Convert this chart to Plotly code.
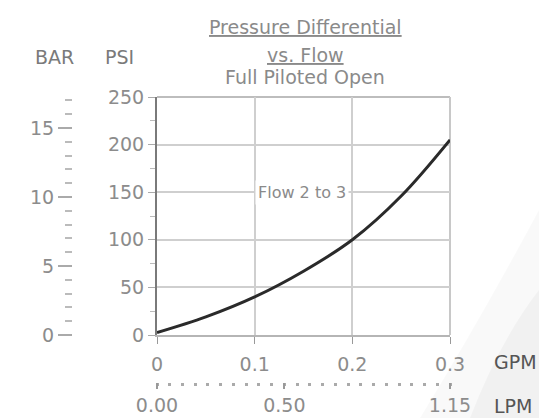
import plotly.graph_objects as go

W, H = 539, 418

# ---- data ----
flow_gpm = [0.0, 0.05, 0.10, 0.15, 0.20, 0.25, 0.30]
pressure_psi = [2.5, 19, 40, 67, 100, 146, 205]

psi_ticks = [0, 50, 100, 150, 200, 250]
bar_ticks = [0, 5, 10, 15]
gpm_ticks = [0, 0.1, 0.2, 0.3]
gpm_labels = ["0", "0.1", "0.2", "0.3"]
lpm_ticks = [0, 0.5, 1.15]
lpm_labels = ["0.00", "0.50", "1.15"]

title_lines = ["Pressure Differential", "vs. Flow", "Full Piloted Open"]
curve_label = "Flow 2 to 3"

PSI_PER_BAR = 14.5038
PSI_MAX = 250
LPM_MAX = 1.15

FONT = "DejaVu Sans"
GRAY = "#8c8c8c"

def px(x):
    return x / W

def py(y):
    return (H - y) / H

x_dom = [px(157), px(450)]
y_dom = [py(335), py(97)]

fig = go.Figure()

fig.add_trace(go.Scatter(
    x=flow_gpm, y=pressure_psi, mode="lines",
    line=dict(color="#2a2a2a", width=3, shape="spline", smoothing=1.0),
    showlegend=False, hoverinfo="skip",
))
# invisible traces to activate secondary axes
fig.add_trace(go.Scatter(x=[0], y=[0], yaxis="y2", mode="markers",
                         marker=dict(opacity=0), showlegend=False, hoverinfo="skip"))
fig.add_trace(go.Scatter(x=[0], y=[0], xaxis="x2", mode="markers",
                         marker=dict(opacity=0), showlegend=False, hoverinfo="skip"))

tickfont = dict(family=FONT, size=19, color=GRAY)

fig.update_layout(
    width=W, height=H,
    margin=dict(l=0, r=0, t=0, b=0, autoexpand=False),
    paper_bgcolor="white", plot_bgcolor="white",
    xaxis=dict(
        domain=x_dom, range=[0, 0.3], tickvals=gpm_ticks, ticktext=gpm_labels,
        showgrid=True, gridcolor="#cfcfcf", gridwidth=2,
        showline=True, linecolor="#b5b5b5", linewidth=2,
        ticks="outside", ticklen=7, tickcolor="#999", tickwidth=1,
        ticklabelstandoff=4,
        tickfont=tickfont, zeroline=False, anchor="y", automargin=False,
    ),
    yaxis=dict(
        domain=y_dom, range=[0, PSI_MAX], tickvals=psi_ticks,
        showgrid=True, gridcolor="#cfcfcf", gridwidth=2,
        showline=True, linecolor="#7a7a7a", linewidth=2,
        ticks="outside", ticklen=7, tickcolor="#aaa", tickwidth=1,
        minor=dict(dtick=25, ticks="outside", ticklen=5, tickcolor="#bbb", showgrid=False),
        tickfont=tickfont, zeroline=False, anchor="x", automargin=False,
    ),
    yaxis2=dict(
        overlaying="y", anchor="free", position=px(72), side="left",
        range=[0, PSI_MAX / PSI_PER_BAR], tickvals=bar_ticks,
        showgrid=False, showline=False, zeroline=False,
        ticks="outside", ticklen=14, tickcolor="#aaa", tickwidth=2,
        minor=dict(dtick=1, ticks="outside", ticklen=7, tickcolor="#bbb", tickwidth=2),
        tickfont=tickfont, automargin=False,
    ),
    xaxis2=dict(
        overlaying="x", anchor="free", position=py(382), side="bottom",
        range=[0, LPM_MAX], tickvals=lpm_ticks, ticktext=lpm_labels,
        showgrid=False, showline=False, zeroline=False,
        ticks="outside", ticklen=6, tickcolor="#999", tickwidth=2,
        minor=dict(dtick=0.05, ticks="outside", ticklen=3, tickcolor="#aaa", tickwidth=3),
        tickfont=tickfont, automargin=False,
    ),
    showlegend=False,
)

# top and right frame lines (light, like grid)
fig.add_shape(type="line", xref="x domain", yref="y domain", x0=0, x1=1, y0=1, y1=1,
              line=dict(color="#bdbdbd", width=2), layer="below")
fig.add_shape(type="line", xref="x domain", yref="y domain", x0=1, x1=1, y0=0, y1=1,
              line=dict(color="#c8c8c8", width=2), layer="below")

# faint watermark swoosh on the right
fig.add_shape(type="path", xref="paper", yref="paper", layer="below",
              path=f"M {px(420)} {py(418)} Q {px(480)} {py(320)} {px(539)} {py(210)} L {px(539)} {py(418)} Z",
              fillcolor="rgba(0,0,0,0.025)", line=dict(width=0))
fig.add_shape(type="path", xref="paper", yref="paper", layer="below",
              path=f"M {px(470)} {py(418)} Q {px(500)} {py(340)} {px(539)} {py(290)} L {px(539)} {py(418)} Z",
              fillcolor="rgba(0,0,0,0.03)", line=dict(width=0))

# titles
title_y = [27, 55, 77]
for i, (t, yy) in enumerate(zip(title_lines, title_y)):
    fig.add_annotation(
        text=t, xref="paper", yref="paper", x=px(305), y=py(yy),
        xanchor="center", yanchor="middle", showarrow=False,
        font=dict(family=FONT, size=19, color="#8a8a8a",
                  lineposition="under" if i < 2 else "none"),
    )

# axis unit labels
for txt, xx, yy, col, anchor in [
    ("BAR", 54, 57, "#7a7a7a", "center"),
    ("PSI", 119, 57, "#7a7a7a", "center"),
    ("GPM", 492, 362, "#555555", "left"),
    ("LPM", 492, 406, "#555555", "left"),
]:
    fig.add_annotation(text=txt, xref="paper", yref="paper", x=px(xx), y=py(yy),
                       xanchor=anchor, yanchor="middle", showarrow=False,
                       font=dict(family=FONT, size=19, color=col))

# curve label
fig.add_annotation(text=curve_label, x=0.148, y=150, xref="x", yref="y",
                   showarrow=False, bgcolor="white", borderpad=2,
                   font=dict(family=FONT, size=16, color="#8a8a8a"))

fig.write_html("out.html", config={"displayModeBar": False},
               post_script="document.body.style.margin='0';")
